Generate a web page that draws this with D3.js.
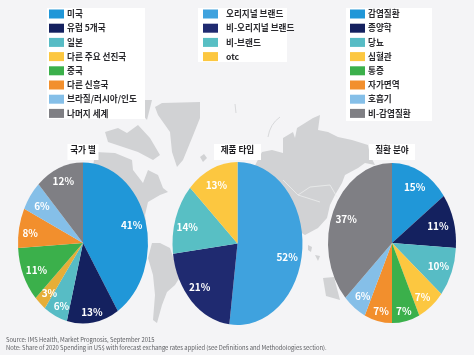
<!DOCTYPE html>
<html>
<head>
<meta charset="utf-8">
<script src="https://cdn.jsdelivr.net/npm/d3@7"></script>
<style>
  html, body { margin: 0; padding: 0; background: #f4f4f6; }
  svg { display: block; filter: blur(0.35px); }
  text { font-family: "Noto Sans CJK KR", "Noto Sans", sans-serif; }
</style>
</head>
<body>
<svg id="chart" width="474" height="355"></svg>
<script>
// chart values
const countryLabels = ["미국", "유럽 5개국", "일본", "다른 주요 선진국", "중국", "다른 신흥국", "브라질/러시아/인도", "나머지 세계"];
const countryValues = [41, 13, 6, 3, 11, 8, 6, 12];
const productLabels = ["오리지널 브랜드", "비-오리지널 브랜드", "비-브랜드", "otc"];
const productValues = [52, 21, 14, 13];
const diseaseLabels = ["감염질환", "종양학", "당뇨", "심혈관", "통증", "자가면역", "호흡기", "비-감염질환"];
const diseaseValues = [15, 11, 10, 7, 7, 7, 6, 37];
const pieTitles = ["국가 별", "제품 타입", "질환 분야"];
const sourceLines = [
  "Source: IMS Health, Market Prognosis, September 2015",
  "Note: Share of 2020 Spending in US$ with forecast exchange rates applied (see Definitions and Methodologies section)."
];

// the 3% slice is a darker gold than its own legend swatch
const countryColors = ["#2097d8", "#14215f", "#57bcc5", "#e6ae38", "#3bb04b", "#f28f2d", "#85bfe8", "#7f7f84"];
const productColors = ["#3fa2de", "#1f2a70", "#58bfc4", "#fcc740"];
const diseaseColors = ["#2097d8", "#14215f", "#57bcc5", "#fcc740", "#3bb04b", "#f28f2d", "#85bfe8", "#7f7f84"];

var svg = d3.select("#chart");

// background world map, only a decoration behind the pies
const mapShapes = [
  // greenland
  "M155,107 L162,103 L200,102 L200,118 L192,138 L183,160 L177,167 L172,152 L170,132 L158,115 Z",
  "M145,100 L152,100 L147,120 L143,115 Z",
  // canadian islands
  "M105,132 L118,128 L127,133 L138,125 L150,138 L160,155 L153,160 L138,152 L120,146 L108,142 Z",
  // north america
  "M95,152 L115,153 L132,160 L133,170 L143,183 L148,170 L158,175 L163,188 L168,192 L160,195 L148,202 L145,215 L148,240 L120,240 L90,190 Z",
  // south america
  "M152,243 L160,243 L170,248 L173,257 L180,277 L175,285 L167,292 L162,305 L157,323 L153,320 L155,295 L153,275 L148,258 Z",
  // eurasia
  "M262,152 L272,150 L283,153 L283,138 L293,132 L295,138 L297,128 L313,118 L320,115 L318,130 L328,132 L338,137 L352,140 L368,145 L370,155 L375,165 L365,163 L358,168 L345,175 L342,183 L335,195 L330,205 L327,218 L318,228 L305,235 L280,220 L250,175 Z",
  // small islands and australia
  "M200,157 L204,154 L207,158 L203,162 Z",
  "M308,245 L312,247 L311,252 L308,250 Z",
  "M315,255 L320,256 L318,261 Z",
  "M323,278 L334,277 L340,300 L326,296 Z"
];
svg.append("rect").attr("width", 474).attr("height", 355).attr("fill", "#f4f4f6");
svg.append("g")
  .selectAll("path")
  .data(mapShapes)
  .join("path")
  .attr("d", (d) => d)
  .attr("fill", "#d1d2d4");
// thin islands in the arctic and country borders
svg.append("path")
  .attr("d", "M280,117 Q270,124 268,137 M235,104 L236,113")
  .attr("fill", "none")
  .attr("stroke", "#d8d9db")
  .attr("stroke-width", 1);
svg.append("path")
  .attr("d", "M283,180 L298,195 L310,187 L330,185 L337,197 M298,195 L320,202")
  .attr("fill", "none")
  .attr("stroke", "#eceded")
  .attr("stroke-width", 0.8);

// legends
function drawLegend(labels, colors, box, swatchX, textX) {
  svg.append("rect")
    .attr("x", box.x)
    .attr("y", box.y)
    .attr("width", box.w)
    .attr("height", box.h)
    .attr("fill", "white");
  var yScale = d3.scaleLinear().domain([0, 1]).range([14, 28.2]);
  var rows = svg.append("g").selectAll("g").data(labels).join("g")
    .attr("transform", (d, i) => "translate(0," + yScale(i) + ")");
  rows.append("rect")
    .attr("x", swatchX)
    .attr("y", -4.5)
    .attr("width", 15)
    .attr("height", 9)
    .attr("fill", (d, i) => colors[i]);
  rows.append("text")
    .attr("x", textX)
    .attr("y", 3.2)
    .attr("font-size", 8.6)
    .attr("font-weight", 700)
    .attr("fill", "#2a2a2e")
    .text((d) => d);
}
drawLegend(countryLabels, diseaseColors, { x: 47, y: 8, w: 98, h: 111 }, 49, 67);
drawLegend(productLabels, productColors, { x: 198, y: 8, w: 89, h: 54 }, 203, 226);
drawLegend(diseaseLabels, diseaseColors, { x: 346, y: 8, w: 86, h: 113 }, 350, 368);

// pies
function drawPie(values, colors, title, shape) {
  var pie = d3.pie().sort(null)(values);
  var arc = d3.arc().innerRadius(0).outerRadius(100);
  var labelArc = d3.arc().innerRadius(78).outerRadius(78);

  svg.append("rect")
    .attr("x", shape.cx - shape.titleWidth / 2)
    .attr("y", 144)
    .attr("width", shape.titleWidth)
    .attr("height", 16)
    .attr("fill", "white");
  svg.append("text")
    .attr("x", shape.cx)
    .attr("y", 153)
    .attr("text-anchor", "middle")
    .attr("font-size", 8.6)
    .attr("font-weight", 700)
    .attr("fill", "#1c1c20")
    .text(title);

  // ellipse: a unit pie squeezed horizontally, as in the picture
  svg.append("g")
    .attr("transform", "translate(" + shape.cx + "," + shape.cy + ") scale(" + shape.rx / 100 + "," + shape.ry / 100 + ")")
    .selectAll("path")
    .data(pie)
    .join("path")
    .attr("d", arc)
    .attr("fill", (d, i) => colors[i]);

  // labels sit on a common radius, nudged where the picture has them elsewhere
  svg.append("g")
    .selectAll("text")
    .data(pie)
    .join("text")
    .attr("x", (d, i) => shape.cx + labelArc.centroid(d)[0] * shape.rx / 100 + shape.nudge[i][0])
    .attr("y", (d, i) => shape.cy + labelArc.centroid(d)[1] * shape.ry / 100 + 3.6 + shape.nudge[i][1])
    .attr("text-anchor", "middle")
    .attr("font-size", 10)
    .attr("font-weight", 700)
    .attr("fill", "white")
    .attr("font-family", "'Open Sans', sans-serif")
    .text((d) => d.value + "%");
}
drawPie(countryValues, countryColors, pieTitles[0], {
  cx: 83, cy: 243, rx: 65, ry: 80.5, titleWidth: 31,
  nudge: [[0, 0], [1, 7], [0, 7], [0, 3], [0, 2], [-3, 2], [0, 0], [-1, -3]]
});
drawPie(productValues, productColors, pieTitles[1], {
  cx: 237.5, cy: 243.5, rx: 65, ry: 81.5, titleWidth: 47,
  nudge: [[-1, 10], [-2, -1], [-2, 4], [-1, 0]]
});
drawPie(diseaseValues, diseaseColors, pieTitles[2], {
  cx: 392, cy: 243, rx: 64, ry: 80, titleWidth: 46,
  nudge: [[0, 0], [-2, 1], [0, 0], [0, 5], [1, 8], [0, 8], [0, 3], [0, 1]]
});

// source note
svg.append("g")
  .selectAll("text")
  .data(sourceLines)
  .join("text")
  .attr("x", 6)
  .attr("y", (d, i) => 341.5 + i * 8.6)
  .attr("font-size", 5.85)
  .attr("fill", "#5c5d61")
  .attr("font-family", "'Open Sans', sans-serif")
  .text((d) => d);
</script>
</body>
</html>
